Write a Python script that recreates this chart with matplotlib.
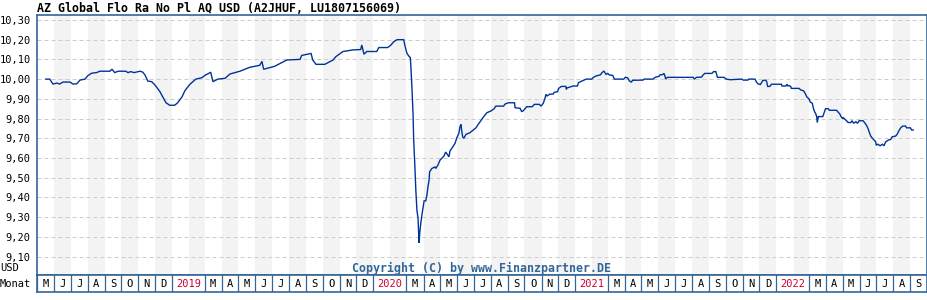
import matplotlib
matplotlib.use('Agg')
import matplotlib.pyplot as plt
import matplotlib.dates as mdates
import pandas as pd

title = "AZ Global Flo Ra No Pl AQ USD (A2JHUF, LU1807156069)"
copyright_text = "Copyright (C) by www.Finanzpartner.DE"
y_unit = "USD"
x_unit = "Monat"

dates = [
    '2018-05-17', '2018-05-24', '2018-05-30', '2018-06-06', '2018-06-11', '2018-06-17', '2018-06-30',
    '2018-07-05', '2018-07-12', '2018-07-18', '2018-07-27', '2018-08-01', '2018-08-08', '2018-08-17',
    '2018-08-23', '2018-09-10', '2018-09-14', '2018-09-19', '2018-09-25', '2018-10-09', '2018-10-13',
    '2018-10-18', '2018-10-24', '2018-11-04', '2018-11-09', '2018-11-13', '2018-11-18', '2018-11-25',
    '2018-12-01', '2018-12-10', '2018-12-15', '2018-12-21', '2018-12-28', '2019-01-06', '2019-01-11',
    '2019-01-19', '2019-01-24', '2019-02-02', '2019-02-13', '2019-02-24', '2019-03-02', '2019-03-09',
    '2019-03-12', '2019-03-16', '2019-03-25', '2019-04-07', '2019-04-16', '2019-05-04', '2019-05-22',
    '2019-06-09', '2019-06-13', '2019-06-16', '2019-07-06', '2019-07-28', '2019-08-21', '2019-08-24',
    '2019-09-10', '2019-09-13', '2019-09-19', '2019-10-05', '2019-10-20', '2019-10-25', '2019-11-07',
    '2019-11-25', '2019-12-09', '2019-12-11', '2019-12-15', '2019-12-20', '2020-01-07', '2020-01-11',
    '2020-01-27', '2020-02-02', '2020-02-07', '2020-02-13', '2020-02-25', '2020-02-27', '2020-02-29',
    '2020-03-02', '2020-03-06', '2020-03-08', '2020-03-09', '2020-03-11', '2020-03-13', '2020-03-14',
    '2020-03-16', '2020-03-18', '2020-03-20', '2020-03-22', '2020-03-23', '2020-03-24', '2020-03-25',
    '2020-03-27', '2020-03-29', '2020-03-31', '2020-04-02', '2020-04-05', '2020-04-07', '2020-04-09',
    '2020-04-11', '2020-04-12', '2020-04-16', '2020-04-22', '2020-04-23', '2020-04-27', '2020-05-01',
    '2020-05-04', '2020-05-08', '2020-05-11', '2020-05-13', '2020-05-17', '2020-05-19', '2020-05-22',
    '2020-05-28', '2020-05-31', '2020-06-04', '2020-06-06', '2020-06-08', '2020-06-09', '2020-06-11',
    '2020-06-13', '2020-06-17', '2020-06-24', '2020-06-30', '2020-07-05', '2020-07-09', '2020-07-14',
    '2020-07-20', '2020-07-25', '2020-08-01', '2020-08-07', '2020-08-10', '2020-08-24', '2020-08-27',
    '2020-09-02', '2020-09-13', '2020-09-14', '2020-09-23', '2020-09-26', '2020-09-29', '2020-10-05',
    '2020-10-15', '2020-10-19', '2020-10-28', '2020-10-31', '2020-11-04', '2020-11-07', '2020-11-09',
    '2020-11-11', '2020-11-16', '2020-11-22', '2020-11-24', '2020-11-30', '2020-12-02', '2020-12-07',
    '2020-12-15', '2020-12-16', '2020-12-17', '2020-12-25', '2020-12-28', '2021-01-05', '2021-01-07',
    '2021-01-13', '2021-01-21', '2021-01-31', '2021-02-03', '2021-02-08', '2021-02-16', '2021-02-18',
    '2021-02-22', '2021-02-26', '2021-03-01', '2021-03-04', '2021-03-10', '2021-03-13', '2021-03-30',
    '2021-04-02', '2021-04-06', '2021-04-09', '2021-04-13', '2021-04-15', '2021-05-04', '2021-05-06',
    '2021-05-22', '2021-05-26', '2021-06-02', '2021-06-04', '2021-06-08', '2021-06-11', '2021-06-13',
    '2021-06-14', '2021-06-17', '2021-08-03', '2021-08-05', '2021-08-09', '2021-08-18', '2021-08-21',
    '2021-08-24', '2021-09-06', '2021-09-09', '2021-09-13', '2021-09-16', '2021-09-28', '2021-10-02',
    '2021-10-09', '2021-10-30', '2021-11-02', '2021-11-10', '2021-11-12', '2021-11-23', '2021-11-26',
    '2021-11-29', '2021-12-03', '2021-12-07', '2021-12-11', '2021-12-14', '2021-12-16', '2021-12-20',
    '2021-12-23', '2022-01-10', '2022-01-11', '2022-01-18', '2022-01-20', '2022-01-22', '2022-01-24',
    '2022-01-27', '2022-01-28', '2022-02-11', '2022-02-14', '2022-02-19', '2022-02-22', '2022-02-25',
    '2022-03-01', '2022-03-03', '2022-03-07', '2022-03-09', '2022-03-11', '2022-03-13', '2022-03-15',
    '2022-03-16', '2022-03-18', '2022-03-26', '2022-03-28', '2022-03-31', '2022-04-05', '2022-04-07',
    '2022-04-20', '2022-04-23', '2022-04-26', '2022-04-28', '2022-05-01', '2022-05-02', '2022-05-05',
    '2022-05-08', '2022-05-11', '2022-05-16', '2022-05-18', '2022-05-21', '2022-05-25', '2022-05-28',
    '2022-05-31', '2022-06-07', '2022-06-10', '2022-06-13', '2022-06-16', '2022-06-18', '2022-06-21',
    '2022-06-24', '2022-06-27', '2022-06-30', '2022-07-01', '2022-07-04', '2022-07-08', '2022-07-12',
    '2022-07-15', '2022-07-18', '2022-07-23', '2022-07-27', '2022-07-30', '2022-08-05', '2022-08-08',
    '2022-08-11', '2022-08-14', '2022-08-18', '2022-08-23', '2022-08-25', '2022-09-01', '2022-09-03',
    '2022-09-06',
]

values = [
    10.000, 10.000, 9.975, 9.980, 9.975, 9.985, 9.985,
    9.975, 9.976, 9.995, 10.000, 10.017, 10.030, 10.033,
    10.040, 10.040, 10.050, 10.033, 10.040, 10.040, 10.033,
    10.038, 10.033, 10.040, 10.035, 10.020, 9.990, 9.987,
    9.970, 9.936, 9.910, 9.880, 9.867, 9.868, 9.880,
    9.910, 9.940, 9.973, 10.000, 10.007, 10.020, 10.030,
    10.035, 9.987, 10.000, 10.004, 10.026, 10.040, 10.060,
    10.070, 10.090, 10.050, 10.065, 10.097, 10.100, 10.120,
    10.130, 10.097, 10.075, 10.075, 10.097, 10.114, 10.140,
    10.148, 10.150, 10.173, 10.126, 10.140, 10.140, 10.160,
    10.160, 10.173, 10.190, 10.200, 10.200, 10.173, 10.150,
    10.130, 10.114, 10.110, 10.063, 9.953, 9.820, 9.700,
    9.575, 9.437, 9.335, 9.295, 9.225, 9.170, 9.218,
    9.270, 9.310, 9.345, 9.383, 9.383, 9.410, 9.454,
    9.488, 9.530, 9.547, 9.555, 9.547, 9.564, 9.590,
    9.598, 9.610, 9.630, 9.623, 9.606, 9.636, 9.648,
    9.674, 9.700, 9.725, 9.758, 9.770, 9.742, 9.707,
    9.700, 9.720, 9.728, 9.742, 9.753, 9.770, 9.790,
    9.813, 9.830, 9.838, 9.850, 9.863, 9.863, 9.874,
    9.880, 9.880, 9.855, 9.852, 9.835, 9.840, 9.860,
    9.860, 9.872, 9.872, 9.863, 9.877, 9.900, 9.923,
    9.914, 9.924, 9.924, 9.933, 9.936, 9.953, 9.963,
    9.963, 9.948, 9.955, 9.962, 9.965, 9.965, 9.982,
    9.990, 10.000, 10.000, 10.009, 10.016, 10.022, 10.031,
    10.041, 10.024, 10.029, 10.021, 10.019, 10.000, 10.000,
    10.009, 10.007, 9.992, 9.984, 9.994, 9.995, 10.000,
    10.000, 10.009, 10.014, 10.022, 10.022, 10.029, 10.014,
    10.000, 10.009, 10.009, 10.000, 10.009, 10.010, 10.021,
    10.029, 10.029, 10.038, 10.038, 10.009, 10.009, 10.000,
    9.997, 10.000, 9.995, 9.995, 10.000, 10.000, 9.984,
    9.975, 9.973, 9.992, 9.995, 9.990, 9.963, 9.963,
    9.974, 9.974, 9.965, 9.965, 9.974, 9.965, 9.967,
    9.962, 9.953, 9.953, 9.945, 9.941, 9.928, 9.910,
    9.900, 9.885, 9.877, 9.852, 9.835, 9.826, 9.810,
    9.780, 9.810, 9.810, 9.826, 9.850, 9.850, 9.842,
    9.842, 9.832, 9.823, 9.810, 9.800, 9.805, 9.797,
    9.789, 9.780, 9.780, 9.789, 9.776, 9.784, 9.776,
    9.789, 9.789, 9.779, 9.767, 9.750, 9.733, 9.711,
    9.700, 9.691, 9.682, 9.665, 9.670, 9.662, 9.670,
    9.662, 9.682, 9.691, 9.694, 9.708, 9.711, 9.721,
    9.738, 9.752, 9.762, 9.762, 9.753, 9.753, 9.742,
    9.742,
]

y_ticks = [9.10, 9.20, 9.30, 9.40, 9.50, 9.60, 9.70, 9.80, 9.90,
           10.00, 10.10, 10.20, 10.30]
y_tick_labels = ['9,10', '9,20', '9,30', '9,40', '9,50', '9,60', '9,70', '9,80', '9,90',
                 '10,00', '10,10', '10,20', '10,30']
month_letters = ['J', 'F', 'M', 'A', 'M', 'J', 'J', 'A', 'S', 'O', 'N', 'D']
x_start = '2018-05-01'
x_end = '2022-10-01'
y_min, y_max = 9.007, 10.325

FRAME = '#336699'
LINE = '#003399'
BAND = '#f3f3f3'
GRID = '#cccccc'
YEAR = '#cc0033'
MONO = 'DejaVu Sans Mono'

W, H = 928, 300
fig = plt.figure(figsize=(W / 100, H / 100), dpi=100)
fig.patch.set_facecolor('white')

left_px, right_px, top_px, bottom_px, strip_px = 37, 927, 15, 275, 292
ax = fig.add_axes([left_px / W, 1 - bottom_px / H, (right_px - left_px) / W, (bottom_px - top_px) / H])
sx = fig.add_axes([left_px / W, 1 - strip_px / H, (right_px - left_px) / W, (strip_px - bottom_px) / H])

d = pd.to_datetime(dates)
months = pd.date_range(x_start, x_end, freq='MS')
x0, x1 = mdates.date2num(pd.Timestamp(x_start)), mdates.date2num(pd.Timestamp(x_end))

for a in (ax, sx):
    a.set_xlim(x0, x1)
    a.set_xticks([])
    for s in a.spines.values():
        s.set_color(FRAME)
        s.set_linewidth(1.2)

# alternate month bands
for i in range(len(months) - 1):
    if i % 2 == 1:
        ax.axvspan(mdates.date2num(months[i]), mdates.date2num(months[i + 1]),
                   color=BAND, lw=0, zorder=0)

for yv in y_ticks:
    ax.axhline(yv, color=GRID, lw=0.72, dashes=(4, 3), zorder=1)

ax.plot(mdates.date2num(d), values, color=LINE, lw=1.0, zorder=3,
        solid_joinstyle='miter')

ax.set_ylim(y_min, y_max)
ax.set_yticks(y_ticks)
ax.set_yticklabels(y_tick_labels, fontfamily=MONO, fontsize=7.5, color='#000000')
ax.tick_params(axis='y', length=0, pad=4.5)

# month strip
sx.set_ylim(0, 1)
sx.set_yticks([])
for i in range(len(months) - 1):
    m0 = mdates.date2num(months[i])
    m1 = mdates.date2num(months[i + 1])
    mon = months[i].month
    if mon == 2:
        continue
    if mon != 1 or i > 0:
        sx.axvline(m0, color=FRAME, lw=0.9)
    if mon == 1:
        m1 = mdates.date2num(months[i + 2])
        sx.text((m0 + m1) / 2, 0.45, str(months[i].year), ha='center', va='center',
                fontfamily=MONO, fontsize=7.5, color=YEAR)
    else:
        sx.text((m0 + m1) / 2, 0.45, month_letters[mon - 1], ha='center', va='center',
                fontfamily=MONO, fontsize=7.5, color='#000000')

fig.text(37 / W, 1 - 8 / H, title, ha='left', va='center', fontfamily=MONO,
         fontsize=8.4, fontweight='bold', color='#000000')
fig.text(482 / W, 1 - 268 / H, copyright_text, ha='center', va='center', fontfamily=MONO,
         fontsize=8.4, fontweight='bold', color=FRAME)
fig.text(0, 1 - 268 / H, y_unit, ha='left', va='center', fontfamily=MONO,
         fontsize=7.5, color='#000000')
fig.text(0, 1 - 284 / H, x_unit, ha='left', va='center', fontfamily=MONO,
         fontsize=7.5, color='#000000')

fig.savefig('out.png', dpi=100)
